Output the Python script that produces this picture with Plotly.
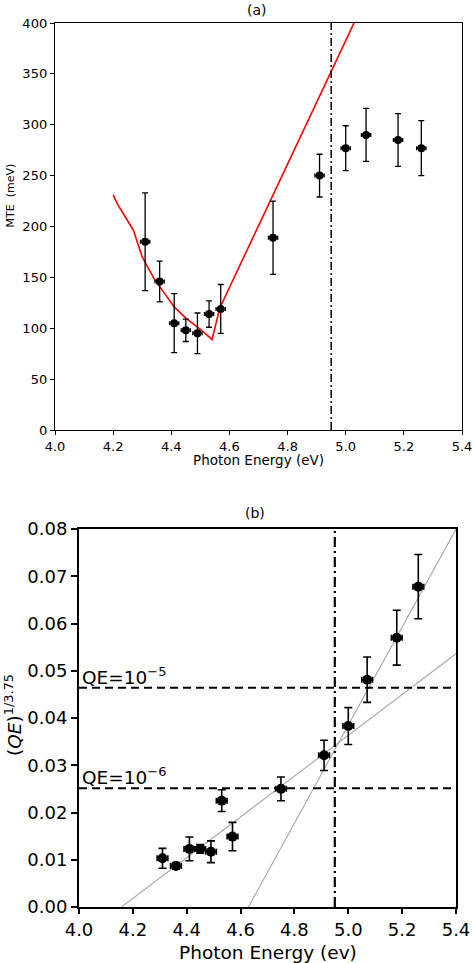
import plotly.graph_objects as go

# ---------------- data ----------------
# Panel (a): MTE vs photon energy
energy_a = [4.31, 4.36, 4.41, 4.45, 4.49, 4.53, 4.57, 4.75, 4.91, 5.00, 5.07, 5.18, 5.26]
mte = [185, 146, 105, 98, 95, 114, 119, 189, 250, 277, 290, 285, 277]
mte_err = [48, 20, 29, 11, 20, 13, 24, 36, 21, 22, 26, 26, 27]
energy_err_a = [0.016] * 13

# Panel (a): theory curve (red)
theory_energy = [4.20, 4.215, 4.23, 4.25, 4.27, 4.30, 4.34, 4.37, 4.41, 4.45, 4.50, 4.54, 4.567, 5.04]
theory_mte = [231, 222, 215, 206, 196, 170, 149, 137, 121, 110, 99, 89, 120, 407]

# Panel (b): (QE)^(1/3.75) vs photon energy
energy_b = [4.31, 4.36, 4.41, 4.45, 4.49, 4.53, 4.57, 4.75, 4.91, 5.00, 5.07, 5.18, 5.26]
qe_root = [0.0103, 0.0087, 0.0123, 0.0123, 0.0117, 0.0225, 0.0149, 0.0250, 0.0321, 0.0383, 0.0481, 0.0570, 0.0678]
qe_root_err = [0.0021, 0.0007, 0.0025, 0.0009, 0.0023, 0.0023, 0.0030, 0.0025, 0.0032, 0.0039, 0.0048, 0.0058, 0.0068]
energy_err_b = [0.02] * 13

# Panel (b): linear fits (grey)
fit_low_energy = [4.158, 5.40]
fit_low_value = [0.0, 0.0536]
fit_high_energy = [4.629, 5.40]
fit_high_value = [0.0, 0.080]

# Reference levels
threshold_energy = 4.95
qe_levels = [1e-5, 1e-6]
qe_level_labels = ["QE=10<sup>\u22125</sup>", "QE=10<sup>\u22126</sup>"]
qe_exponent = 3.75

x_ticks = [4.0, 4.2, 4.4, 4.6, 4.8, 5.0, 5.2, 5.4]
y_ticks_a = [0, 50, 100, 150, 200, 250, 300, 350, 400]
y_ticks_b = [0.00, 0.01, 0.02, 0.03, 0.04, 0.05, 0.06, 0.07, 0.08]

# ---------------- figure ----------------
W, H = 474, 963
FONT = "DejaVu Sans"
FS_A = 13
FS_B = 18


def fx(p):
    return p / W


def fy(p):
    return 1 - p / H


fig = go.Figure()

# panel (a)
fig.add_trace(go.Scatter(
    x=theory_energy, y=theory_mte, mode="lines",
    line=dict(color="#ff0000", width=1.6),
    xaxis="x", yaxis="y", showlegend=False, hoverinfo="skip"))
fig.add_trace(go.Scatter(
    x=energy_a, y=mte, mode="markers",
    marker=dict(color="black", size=8),
    error_y=dict(type="data", array=mte_err, color="black", thickness=1.3, width=3),
    error_x=dict(type="data", array=energy_err_a, color="black", thickness=1.3, width=2),
    xaxis="x", yaxis="y", showlegend=False))

# panel (b)
fig.add_trace(go.Scatter(
    x=fit_low_energy, y=fit_low_value, mode="lines",
    line=dict(color="#a8a8a8", width=1.1),
    xaxis="x2", yaxis="y2", showlegend=False, hoverinfo="skip"))
fig.add_trace(go.Scatter(
    x=fit_high_energy, y=fit_high_value, mode="lines",
    line=dict(color="#a8a8a8", width=1.1),
    xaxis="x2", yaxis="y2", showlegend=False, hoverinfo="skip"))
fig.add_trace(go.Scatter(
    x=energy_b, y=qe_root, mode="markers",
    marker=dict(color="black", size=10),
    error_y=dict(type="data", array=qe_root_err, color="black", thickness=1.6, width=4),
    error_x=dict(type="data", array=energy_err_b, color="black", thickness=1.6, width=3),
    xaxis="x2", yaxis="y2", showlegend=False))

shapes = [
    dict(type="line", xref="x", yref="y domain", x0=threshold_energy, x1=threshold_energy,
         y0=0, y1=1, line=dict(color="black", width=1.5, dash="8px,3px,2px,3px"), layer="above"),
    dict(type="line", xref="x2", yref="y2 domain", x0=threshold_energy, x1=threshold_energy,
         y0=0, y1=1, line=dict(color="black", width=2.2, dash="10px,4px,2px,4px"), layer="above"),
]
annotations = []
for qe, lab in zip(qe_levels, qe_level_labels):
    level = qe ** (1 / qe_exponent)
    shapes.append(dict(type="line", xref="x2 domain", yref="y2", x0=0, x1=1, y0=level, y1=level,
                       line=dict(color="black", width=2, dash="8px,5px"), layer="above"))
    annotations.append(dict(text=lab, xref="paper", yref="y2", x=fx(80), y=level,
                            xanchor="left", yanchor="bottom", yshift=-2, showarrow=False,
                            font=dict(family=FONT, size=18.5, color="black")))

annotations += [
    dict(text="(a)", xref="paper", yref="paper", x=fx(257), y=fy(10), showarrow=False,
         xanchor="center", yanchor="middle", font=dict(family=FONT, size=14, color="black")),
    dict(text="(b)", xref="paper", yref="paper", x=fx(255), y=fy(513), showarrow=False,
         xanchor="center", yanchor="middle", font=dict(family=FONT, size=14, color="black")),
    dict(text="Photon Energy (eV)", xref="paper", yref="paper", x=fx(258.5), y=fy(460),
         showarrow=False, xanchor="center", yanchor="middle",
         font=dict(family=FONT, size=13.5, color="black")),
    dict(text="Photon Energy (ev)", xref="paper", yref="paper", x=fx(267.5), y=fy(952),
         showarrow=False, xanchor="center", yanchor="middle",
         font=dict(family=FONT, size=18.5, color="black")),
    dict(text="MTE\u00a0 (meV)", xref="paper", yref="paper", x=fx(9.5), y=fy(196),
         textangle=-90, showarrow=False, xanchor="center", yanchor="middle",
         font=dict(family=FONT, size=11, color="black")),
    dict(text="(<i>QE</i>)<sup>1/3.75</sup>", xref="paper", yref="paper", x=fx(13), y=fy(715),
         textangle=-90, showarrow=False, xanchor="center", yanchor="middle",
         font=dict(family=FONT, size=18.5, color="black")),
]

axis_common = dict(showline=True, mirror=True, linecolor="black", showgrid=False,
                   zeroline=False, ticks="outside", tickcolor="black", automargin=False)

fig.update_layout(
    width=W, height=H,
    margin=dict(l=0, r=0, t=0, b=0),
    paper_bgcolor="white", plot_bgcolor="white",
    showlegend=False,
    xaxis=dict(domain=[fx(55), fx(462)], range=[4.0, 5.4], anchor="y",
               tickvals=x_ticks, ticktext=[f"{v:.1f}" for v in x_ticks],
               linewidth=1.4, ticklen=4, tickwidth=1.2,
               tickfont=dict(family=FONT, size=FS_A, color="black"), **axis_common),
    yaxis=dict(domain=[fy(430), fy(23)], range=[0, 400], anchor="x",
               tickvals=y_ticks_a, ticktext=[str(v) for v in y_ticks_a],
               linewidth=1.4, ticklen=4, tickwidth=1.2,
               tickfont=dict(family=FONT, size=FS_A, color="black"), **axis_common),
    xaxis2=dict(domain=[fx(79), fx(456)], range=[4.0, 5.4], anchor="y2",
                tickvals=x_ticks, ticktext=[f"{v:.1f}" for v in x_ticks],
                linewidth=2, ticklen=5, tickwidth=1.5,
                tickfont=dict(family=FONT, size=FS_B, color="black"), **axis_common),
    yaxis2=dict(domain=[fy(907), fy(529)], range=[0, 0.08], anchor="x2",
                tickvals=y_ticks_b, ticktext=[f"{v:.2f}" for v in y_ticks_b],
                linewidth=2, ticklen=6, tickwidth=1.5,
                tickfont=dict(family=FONT, size=FS_B, color="black"), **axis_common),
    shapes=shapes,
    annotations=annotations,
)

fig.write_html(
    "out.html",
    config={"displayModeBar": False},
    post_script="document.body.style.margin='0';document.body.style.overflow='hidden';",
)
